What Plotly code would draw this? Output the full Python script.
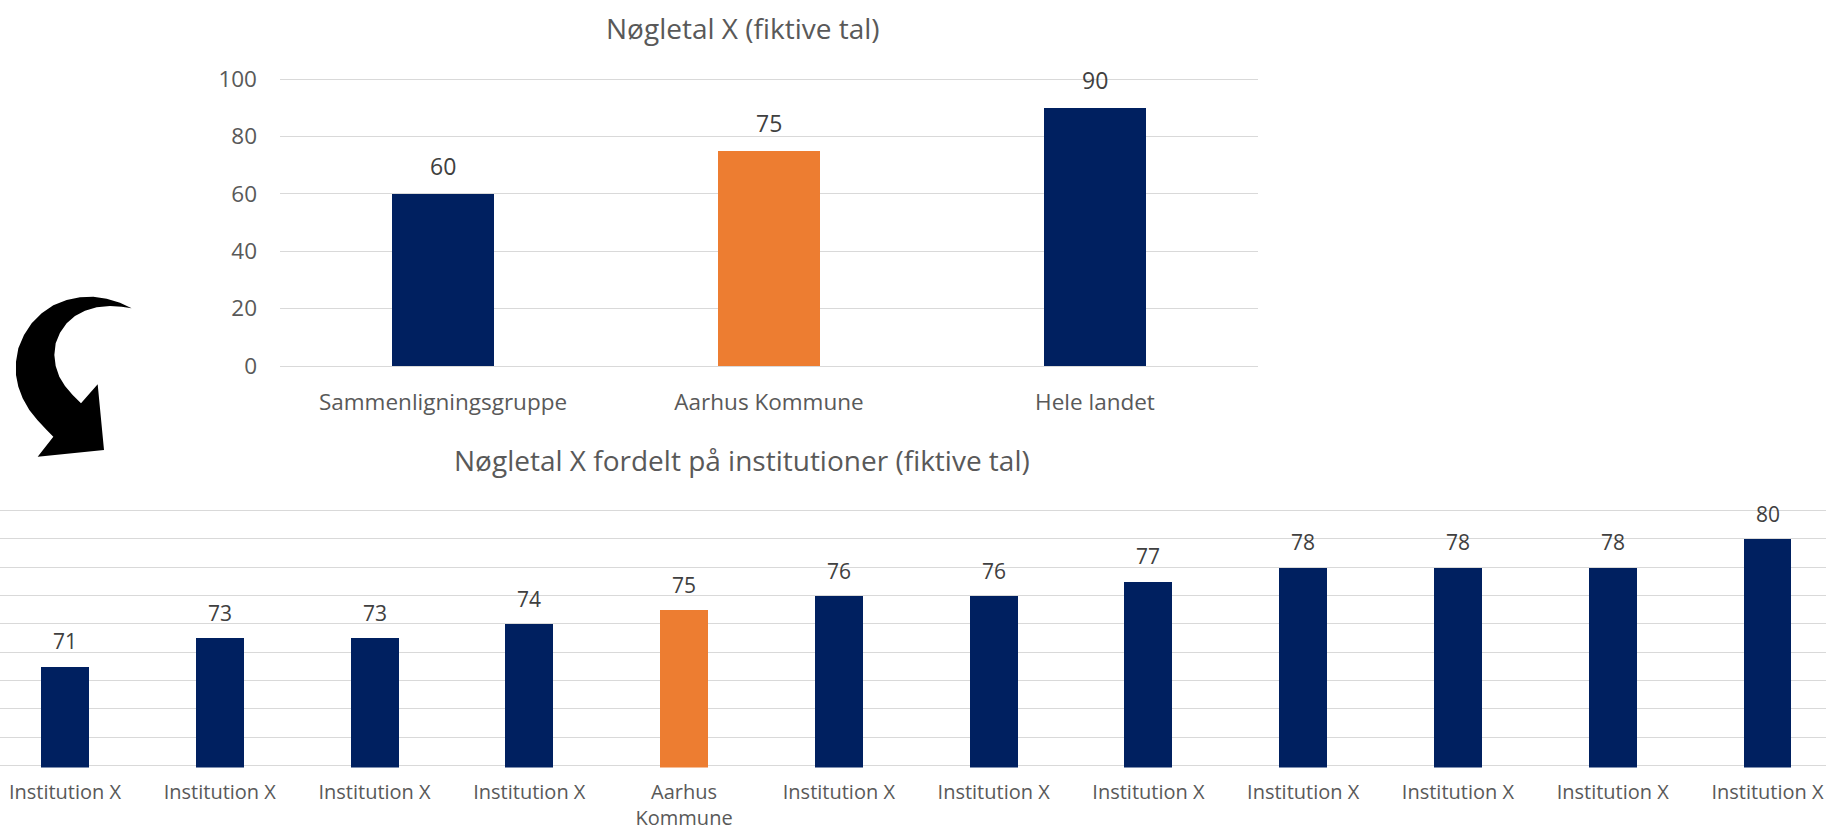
import plotly.graph_objects as go

W, H = 1826, 833

NAVY = "#002060"
ORANGE = "#ED7D31"
GRID = "#D9D9D9"
TICK = "#595959"
VAL = "#404040"
FONT = "Open Sans"

# ---- data ----
top_title = "Nøgletal X (fiktive tal)"
top_categories = ["Sammenligningsgruppe", "Aarhus Kommune", "Hele landet"]
top_values = [60, 75, 90]
top_range = [0, 100]
top_dtick = 20

bottom_title = "Nøgletal X fordelt på institutioner (fiktive tal)"
bottom_labels = ["Institution X", "Institution X", "Institution X", "Institution X",
                 "Aarhus<br>Kommune", "Institution X", "Institution X", "Institution X",
                 "Institution X", "Institution X", "Institution X", "Institution X"]
bottom_values = [71, 73, 73, 74, 75, 76, 76, 77, 78, 78, 78, 80]
bottom_range = [64, 82]
bottom_dtick = 2
highlight = "Aarhus"


def px(x):
    return x / W


def py(y):
    return 1 - y / H


def domain_for(rng, pad, p_lo, p_hi):
    """pixel rows p_lo (value rng[0]) and p_hi (value rng[1]); extend range by pad."""
    scale = (p_lo - p_hi) / (rng[1] - rng[0])
    return [py(p_lo + pad * scale), py(p_hi - pad * scale)], [rng[0] - pad, rng[1] + pad]


top_dom, top_rng = domain_for(top_range, 0.4, 366, 79)
bot_dom, bot_rng = domain_for(bottom_range, 0.15, 765.3, 510.7)

top_colors = [ORANGE if highlight in c else NAVY for c in top_categories]
bottom_colors = [ORANGE if highlight in c else NAVY for c in bottom_labels]
bottom_x = list(range(len(bottom_labels)))

fig = go.Figure()
fig.add_trace(go.Bar(x=top_categories, y=top_values, marker=dict(color=top_colors, line=dict(width=0)),
                     width=0.31, xaxis="x", yaxis="y", hoverinfo="skip"))
fig.add_trace(go.Bar(x=bottom_x, y=bottom_values, marker=dict(color=bottom_colors, line=dict(width=0)),
                     width=0.31, xaxis="x2", yaxis="y2", hoverinfo="skip"))

annotations = []
for c, v in zip(top_categories, top_values):
    annotations.append(dict(x=c, y=v, xref="x", yref="y", text=str(v), showarrow=False,
                            yanchor="bottom", yshift=10, font=dict(family=FONT, size=23, color=VAL)))
for x, v in zip(bottom_x, bottom_values):
    annotations.append(dict(x=x, y=v, xref="x2", yref="y2", text=str(v), showarrow=False,
                            yanchor="bottom", yshift=9, font=dict(family=FONT, size=21, color=VAL)))

annotations.append(dict(x=px(743), y=py(28), xref="paper", yref="paper", text=top_title,
                        showarrow=False, xanchor="center", yanchor="middle",
                        font=dict(family=FONT, size=28, color=TICK)))
annotations.append(dict(x=px(742), y=py(460), xref="paper", yref="paper", text=bottom_title,
                        showarrow=False, xanchor="center", yanchor="middle",
                        font=dict(family=FONT, size=28, color=TICK)))

# curved arrow decoration (outline traced at 3x from the crop starting at pixel row 280)
outer = [(395, 85), (360, 68), (320, 56), (280, 50), (240, 52), (200, 60), (160, 76), (125, 100),
         (95, 130), (72, 165), (55, 205), (48, 245), (48, 285), (55, 320), (68, 355), (88, 390),
         (112, 420), (140, 450), (160, 470)]
head = [(113, 530), (312, 510), (293, 313), (243, 370)]
inner = [(218, 345), (195, 318), (178, 290), (167, 258), (163, 225), (167, 190), (180, 158),
         (200, 130), (225, 108), (255, 92), (290, 82), (330, 78), (365, 80)]
pts = [(x / 3, 280 + y / 3) for x, y in outer + head + inner]
path = "M " + " L ".join(f"{px(x):.5f},{py(y):.5f}" for x, y in pts) + " Z"

axis_common = dict(automargin=False)

fig.update_layout(
    width=W, height=H,
    margin=dict(l=0, r=0, t=0, b=0, pad=0, autoexpand=False),
    paper_bgcolor="white", plot_bgcolor="white",
    showlegend=False,
    bargap=0,
    font=dict(family=FONT, color=TICK),
    annotations=annotations,
    shapes=[dict(type="path", xref="paper", yref="paper", path=path,
                 fillcolor="black", line=dict(width=0))],
    xaxis=dict(domain=[px(280), px(1258)], anchor="y", type="category",
               showgrid=False, zeroline=False, showline=False, ticks="",
               ticklabelstandoff=19, tickfont=dict(family=FONT, size=22.5, color=TICK), **axis_common),
    yaxis=dict(domain=top_dom, anchor="x", range=top_rng, tick0=0, dtick=top_dtick,
               showgrid=True, gridcolor=GRID, gridwidth=1.3, zeroline=True,
               zerolinecolor=GRID, zerolinewidth=1.3, showline=False, ticks="",
               ticklabelstandoff=22, tickfont=dict(family=FONT, size=22.5, color=TICK), **axis_common),
    xaxis2=dict(domain=[0, 1], anchor="y2", range=[-0.42, 11.378],
                tickmode="array", tickvals=bottom_x, ticktext=bottom_labels,
                showgrid=False, zeroline=False, showline=False, ticks="",
                ticklabelstandoff=11, tickfont=dict(family=FONT, size=20, color=TICK), **axis_common),
    yaxis2=dict(domain=bot_dom, anchor="x2", range=bot_rng, tick0=bottom_range[0], dtick=bottom_dtick,
                showgrid=True, gridcolor=GRID, gridwidth=1.3, zeroline=False,
                showline=False, ticks="", showticklabels=False, **axis_common),
)

fig.write_html(
    "out.html",
    config={"displayModeBar": False},
    post_script="document.documentElement.style.margin='0';document.body.style.margin='0';"
                "document.body.style.overflow='hidden';",
)
